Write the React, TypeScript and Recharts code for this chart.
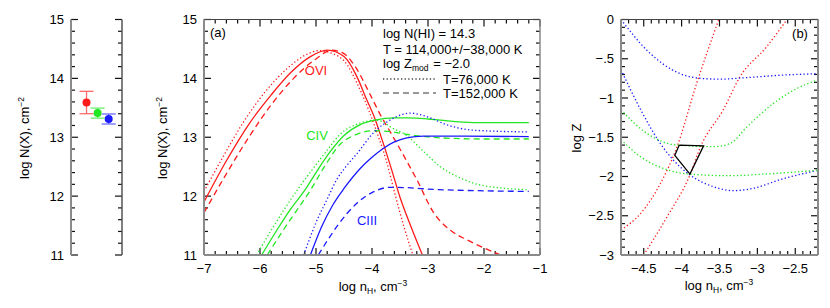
import React from "react";
import { LineChart, Line, XAxis, YAxis, ScatterChart, Scatter, ErrorBar, ReferenceLine } from "recharts";

const W = 830;
const H = 308;
const FONT = "'Liberation Sans', Arial, Helvetica, sans-serif";
const RED = "#ff1a1a";
const GREEN = "#22e622";
const BLUE = "#1a1aff";
const AXIS = "#8a8a8a";
const TICK = "#111";

// left panel: measured column densities
const obsPos = [1, 2, 3];
const obsLogN = [13.59, 13.41, 13.31];
const obsErr = [0.19, 0.085, 0.085];
const obsColor = [RED, GREEN, BLUE];
const obsErrColor = ["#ff6b6b", "#6cf06c", "#6b6bff"];

// panel (a): model column densities vs log nH  [log nH, log N]
const oviSolid = [[-7, 11.9], [-6.6, 12.6], [-6.2, 13.22], [-5.8, 13.72], [-5.45, 14.1], [-5.1, 14.37], [-4.8, 14.48], [-4.5, 14.37], [-4.27, 14.03], [-4.1, 13.65], [-3.95, 13.32], [-3.8, 12.9], [-3.65, 12.45], [-3.5, 11.98], [-3.3, 11.47], [-3.1, 11.0]];
const oviDot = [[-7, 12.08], [-6.7, 12.6], [-6.3, 13.25], [-5.9, 13.78], [-5.5, 14.18], [-5.2, 14.39], [-4.95, 14.47], [-4.7, 14.42], [-4.5, 14.3], [-4.2, 13.78], [-3.9, 13.05], [-3.75, 12.62], [-3.58, 12.0], [-3.42, 11.45], [-3.27, 11.0]];
const oviDash = [[-7, 11.72], [-6.6, 12.38], [-6.2, 13.0], [-5.8, 13.55], [-5.4, 14.0], [-5.0, 14.33], [-4.72, 14.48], [-4.5, 14.42], [-4.3, 14.2], [-4.03, 13.72], [-3.85, 13.38], [-3.68, 13.1], [-3.5, 12.8], [-3.2, 12.28], [-2.9, 11.72], [-2.6, 11.42], [-2.31, 11.26], [-2.0, 11.12], [-1.7, 11.0]];
const civSolid = [[-5.97, 11.0], [-5.7, 11.42], [-5.46, 11.77], [-5.2, 12.1], [-5.0, 12.4], [-4.75, 12.75], [-4.5, 13.03], [-4.2, 13.22], [-3.95, 13.29], [-3.6, 13.33], [-3.38, 13.33], [-3.0, 13.31], [-2.78, 13.29], [-2.19, 13.25], [-1.2, 13.25]];
const civDot = [[-6.06, 11.0], [-5.8, 11.42], [-5.55, 11.8], [-5.3, 12.15], [-5.05, 12.47], [-4.8, 12.78], [-4.57, 13.05], [-4.21, 13.24], [-3.95, 13.29], [-3.8, 13.26], [-3.68, 13.18], [-3.38, 13.03], [-3.08, 12.76], [-2.78, 12.5], [-2.45, 12.32], [-2.19, 12.22], [-1.59, 12.13], [-1.2, 12.11]];
const civDash = [[-5.87, 11.0], [-5.6, 11.4], [-5.35, 11.75], [-5.1, 12.1], [-4.85, 12.5], [-4.57, 12.88], [-4.3, 13.04], [-3.97, 13.11], [-3.7, 13.1], [-3.38, 13.05], [-2.78, 12.99], [-2.0, 12.97], [-1.2, 12.97]];
const ciiiSolid = [[-5.1, 11.0], [-4.9, 11.48], [-4.7, 11.85], [-4.5, 12.13], [-4.21, 12.47], [-4.0, 12.66], [-3.8, 12.81], [-3.6, 12.92], [-3.38, 12.99], [-3.08, 13.02], [-2.5, 13.02], [-1.2, 13.01]];
const ciiiDot = [[-5.22, 11.0], [-5.0, 11.55], [-4.8, 11.95], [-4.63, 12.28], [-4.45, 12.52], [-4.27, 12.72], [-3.97, 13.08], [-3.68, 13.29], [-3.45, 13.39], [-3.32, 13.41], [-3.02, 13.35], [-2.66, 13.21], [-2.19, 13.12], [-1.2, 13.09]];
const ciiiDash = [[-4.96, 11.0], [-4.8, 11.24], [-4.63, 11.48], [-4.45, 11.7], [-4.27, 11.88], [-4.0, 12.06], [-3.68, 12.15], [-3.3, 12.14], [-3.0, 12.12], [-2.0, 12.09], [-1.2, 12.08]];

// panel (b): log Z vs log nH  [log nH, log Z]
const oviA = [[-4.8, -2.68], [-4.54, -2.47], [-4.28, -2.09], [-4.06, -1.62], [-3.8, -0.81], [-3.51, 0]];
const oviB = [[-4.5, -3.0], [-4.19, -2.51], [-3.89, -1.98], [-3.75, -1.62], [-3.45, -1.15], [-3.23, -0.73], [-2.88, -0.35], [-2.61, 0]];
const ciiiA = [[-4.8, 0], [-4.46, -0.39], [-4.02, -0.69], [-3.75, -0.75], [-3.49, -0.76], [-3.14, -0.74], [-2.7, -0.71], [-2.2, -0.69]];
const ciiiB = [[-4.8, -0.64], [-4.54, -1.15], [-4.28, -1.58], [-4.11, -1.79], [-3.89, -1.98], [-3.58, -2.13], [-3.32, -2.18], [-3.05, -2.15], [-2.7, -2.04], [-2.2, -1.92]];
const civA = [[-4.8, -1.15], [-4.46, -1.45], [-4.06, -1.6], [-3.58, -1.62], [-3.36, -1.58], [-3.14, -1.37], [-2.79, -1.07], [-2.48, -0.88], [-2.2, -0.77]];
const civB = [[-4.8, -1.53], [-4.54, -1.75], [-4.17, -1.92], [-3.89, -1.97], [-3.36, -1.99], [-2.92, -1.97], [-2.2, -1.92]];
const allowed = [[-4.03, -1.6], [-3.71, -1.61], [-3.89, -1.97], [-4.09, -1.73], [-4.03, -1.6]];

// axis ticks
const nMajorX = [-7, -6, -5, -4, -3, -2, -1];
const nMajorY = [11, 12, 13, 14, 15];
const zMajorX = [-4.5, -4, -3.5, -3, -2.5];
const zMajorY = [-3, -2.5, -2, -1.5, -1, -0.5, 0];

const steps = (a: number, b: number, s: number) => {
  const out: number[] = [];
  const n = Math.round((b - a) / s);
  for (let i = 0; i <= n; i++) out.push(Math.round((a + i * s) * 1000) / 1000);
  return out;
};

const pts = (arr: number[][]) => arr.map(([x, y]) => ({ x, y }));
const isMajor = (v: number, majors: number[]) => majors.some((m) => Math.abs(m - v) < 1e-6);

const fmt = (v: number) => {
  let s = String(Math.abs(v));
  if (s.startsWith("0.")) s = s.slice(1);
  return (v < 0 ? "\u2212" : "") + s;
};

// plot boxes (pixels) of the three panels
const boxN = { l: 71, r: 122, t: 19.5, b: 255 };
const boxA = { l: 204, r: 540, t: 19.5, b: 255 };
const boxB = { l: 621, r: 818, t: 19.5, b: 255 };

// axis bands are 1px wide (a zero-size axis is not drawn), so margins give up that pixel
const marginOf = (bx: typeof boxA, sides: { t: boolean; b: boolean }) => ({
  left: bx.l - 1,
  right: W - bx.r - 1,
  top: bx.t - (sides.t ? 1 : 0),
  bottom: H - bx.b - (sides.b ? 1 : 0),
});

const labelTick = (side: string, majors: number[]) => (p: any) => {
  const { x, y, payload } = p;
  const v = payload.value;
  if (!isMajor(v, majors)) return <g />;
  if (side === "bottom")
    return <text x={x} y={y + 18} textAnchor="middle" fontSize={13} fontFamily={FONT} fill="#000">{fmt(v)}</text>;
  return <text x={x - 7} y={y + 4.5} textAnchor="end" fontSize={13} fontFamily={FONT} fill="#000">{fmt(v)}</text>;
};

const axisCommon = {
  type: "number" as const,
  interval: 0 as const,
  tickSize: 0,
  tickMargin: 0,
  tickLine: false,
  allowDataOverflow: true,
};

// inward tick marks drawn as short reference segments in data units
// (major 7px, minor 4px; unit lengths from the panel box size)
const tickMarks = (
  bx: typeof boxA, xd: number[], yd: number[], xs: number[], ys: number[],
  xMaj: number[], yMaj: number[], frame: boolean
) => {
  const ux = (xd[1] - xd[0]) / (bx.r - bx.l);
  const uy = (yd[1] - yd[0]) / (bx.b - bx.t);
  const out: React.ReactNode[] = [];
  const seg = (key: string, a: any, b: any, yAxisId?: string) => (
    <ReferenceLine key={key} segment={[a, b]} stroke={TICK} strokeWidth={1.2} ifOverflow="visible"
      yAxisId={yAxisId ?? 0} />
  );
  if (frame) {
    xs.forEach((v, i) => {
      const len = (isMajor(v, xMaj) ? 7 : 4) * uy;
      out.push(seg(`b${i}`, { x: v, y: yd[0] }, { x: v, y: yd[0] + len }));
      out.push(seg(`t${i}`, { x: v, y: yd[1] }, { x: v, y: yd[1] - len }));
    });
  }
  ys.forEach((v, i) => {
    const len = (isMajor(v, yMaj) ? 7 : 4) * ux;
    out.push(seg(`l${i}`, { x: xd[0], y: v }, { x: xd[0] + len, y: v }));
    out.push(seg(`r${i}`, { x: xd[1], y: v }, { x: xd[1] - len, y: v }));
  });
  return out;
};

const DOT = "1.3 2.3";
const DASH = "6 4";

const curve = (key: string, d: number[][], color: string, dash?: string) => (
  <Line key={key} data={pts(d)} dataKey="y" type="monotone" stroke={color} strokeWidth={1.3}
    strokeDasharray={dash} dot={false} activeDot={false} isAnimationActive={false} />
);

const layer: React.CSSProperties = { position: "absolute", left: 0, top: 0 };

const ColumnPanel = () => (
  <div style={layer}>
    <ScatterChart width={W} height={H} margin={marginOf(boxN, { t: false, b: false })}>
      <XAxis type="number" dataKey="x" domain={[-0.4, 4.2]} hide allowDataOverflow height={0} />
      <YAxis {...axisCommon} dataKey="y" domain={[11, 15]} ticks={nMajorY} width={1}
        axisLine={{ stroke: AXIS, strokeWidth: 2 }} tick={labelTick("left", nMajorY)} />
      <YAxis {...axisCommon} yAxisId="r" orientation="right" domain={[11, 15]} ticks={nMajorY}
        width={1} axisLine={{ stroke: "#555", strokeWidth: 1.5 }} tick={false} />
      {tickMarks(boxN, [-0.4, 4.2], [11, 15], [], steps(11, 15, 0.2), [], nMajorY, false)}
      {obsPos.map((p, i) => (
        <Scatter key={i} data={[{ x: p, y: obsLogN[i], err: obsErr[i] }]} isAnimationActive={false}
          shape={(s: any) => <circle cx={s.cx} cy={s.cy} r={4} fill={obsColor[i]} />}>
          <ErrorBar dataKey="err" direction="y" width={7} stroke={obsErrColor[i]} strokeWidth={1.3} isAnimationActive={false} />
        </Scatter>
      ))}
    </ScatterChart>
  </div>
);

const ModelPanel = () => (
  <div style={layer}>
    <LineChart width={W} height={H} margin={marginOf(boxA, { t: true, b: true })}>
      <XAxis {...axisCommon} dataKey="x" domain={[-7, -1]} ticks={nMajorX} height={1}
        axisLine={{ stroke: AXIS, strokeWidth: 2 }} tick={labelTick("bottom", nMajorX)} />
      <XAxis {...axisCommon} xAxisId="top" orientation="top" domain={[-7, -1]} ticks={nMajorX}
        height={1} axisLine={{ stroke: "#444", strokeWidth: 1 }} tick={false} />
      <YAxis {...axisCommon} domain={[11, 15]} ticks={nMajorY} width={1}
        axisLine={{ stroke: AXIS, strokeWidth: 2 }} tick={labelTick("left", nMajorY)} />
      <YAxis {...axisCommon} yAxisId="r" orientation="right" domain={[11, 15]} ticks={nMajorY}
        width={1} axisLine={{ stroke: AXIS, strokeWidth: 1.5 }} tick={false} />
      {tickMarks(boxA, [-7, -1], [11, 15], steps(-7, -1, 0.2), steps(11, 15, 0.2), nMajorX, nMajorY, true)}
      {curve("os", oviSolid, RED)}
      {curve("od", oviDot, RED, DOT)}
      {curve("oa", oviDash, RED, DASH)}
      {curve("cs", civSolid, GREEN)}
      {curve("cd", civDot, GREEN, DOT)}
      {curve("ca", civDash, GREEN, DASH)}
      {curve("is", ciiiSolid, BLUE)}
      {curve("id", ciiiDot, BLUE, DOT)}
      {curve("ia", ciiiDash, BLUE, DASH)}
    </LineChart>
  </div>
);

const MetalPanel = () => (
  <div style={layer}>
    <LineChart width={W} height={H} margin={marginOf(boxB, { t: true, b: true })}>
      <XAxis {...axisCommon} dataKey="x" domain={[-4.8, -2.2]} ticks={zMajorX} height={1}
        axisLine={{ stroke: AXIS, strokeWidth: 2 }} tick={labelTick("bottom", zMajorX)} />
      <XAxis {...axisCommon} xAxisId="top" orientation="top" domain={[-4.8, -2.2]} ticks={zMajorX}
        height={1} axisLine={{ stroke: "#444", strokeWidth: 1 }} tick={false} />
      <YAxis {...axisCommon} domain={[-3, 0]} ticks={zMajorY} width={1}
        axisLine={{ stroke: AXIS, strokeWidth: 2 }} tick={labelTick("left", zMajorY)} />
      <YAxis {...axisCommon} yAxisId="r" orientation="right" domain={[-3, 0]} ticks={zMajorY}
        width={1} axisLine={{ stroke: AXIS, strokeWidth: 2 }} tick={false} />
      {tickMarks(boxB, [-4.8, -2.2], [-3, 0], steps(-4.8, -2.2, 0.1), steps(-3, 0, 0.1), zMajorX, zMajorY, true)}
      {curve("za", oviA, RED, DOT)}
      {curve("zb", oviB, RED, DOT)}
      {curve("zc", ciiiA, BLUE, DOT)}
      {curve("zd", ciiiB, BLUE, DOT)}
      {curve("ze", civA, GREEN, DOT)}
      {curve("zf", civB, GREEN, DOT)}
      <Line data={pts(allowed)} dataKey="y" type="linear" stroke="#000" strokeWidth={1.3}
        dot={false} activeDot={false} isAnimationActive={false} />
    </LineChart>
  </div>
);

const Sub = ({ children }: { children: string }) => (
  <>
    <tspan dy={3} fontSize={8.5}>{children}</tspan>
    <tspan dy={-3}>{"\u200a"}</tspan>
  </>
);

const NH = () => (
  <>
    log n<tspan dy={3} fontSize={8.5}>H</tspan>
    <tspan dy={-3}>, cm</tspan>
    <tspan dy={-5} fontSize={8.5}>{"\u22123"}</tspan>
  </>
);

const Annotations = () => (
  <svg width={W} height={H} style={{ ...layer, pointerEvents: "none" }} fontFamily={FONT} fontSize={13}>
    <text transform="translate(29,138) rotate(-90)" textAnchor="middle">
      log N(X), cm<tspan dy={-5} fontSize={8.5}>{"\u22122"}</tspan>
    </text>
    <text transform="translate(167,138) rotate(-90)" textAnchor="middle">
      log N(X), cm<tspan dy={-5} fontSize={8.5}>{"\u22122"}</tspan>
    </text>
    <text transform="translate(581,138) rotate(-90)" textAnchor="middle">log Z</text>
    <text x={373} y={291} textAnchor="middle"><NH /></text>
    <text x={719} y={290} textAnchor="middle"><NH /></text>

    <text x={210} y={37}>(a)</text>
    <text x={800} y={38} textAnchor="middle">(b)</text>
    <text x={316} y={75} textAnchor="middle" fill={RED}>OVI</text>
    <text x={317} y={140} textAnchor="middle" fill={GREEN}>CIV</text>
    <text x={367} y={225} textAnchor="middle" fill={BLUE}>CIII</text>

    <text x={383} y={38}>log N(HI) = 14.3</text>
    <text x={383} y={53.5}>T = 114,000+/{"\u2212"}38,000 K</text>
    <text x={383} y={68}>log Z<Sub>mod</Sub> = {"\u2212"}2.0</text>
    <line x1={383} x2={436} y1={79} y2={79} stroke="#444" strokeWidth={1.3} strokeDasharray={DOT} />
    <text x={443} y={83.5}>T=76,000 K</text>
    <line x1={383} x2={436} y1={93} y2={93} stroke="#777" strokeWidth={1.3} strokeDasharray={DASH} />
    <text x={443} y={97.5}>T=152,000 K</text>
  </svg>
);

export default function App() {
  return (
    <div style={{ position: "fixed", left: 0, top: 0, width: W, height: H, background: "#fff", fontFamily: FONT }}>
      <ColumnPanel />
      <ModelPanel />
      <MetalPanel />
      <Annotations />
    </div>
  );
}
